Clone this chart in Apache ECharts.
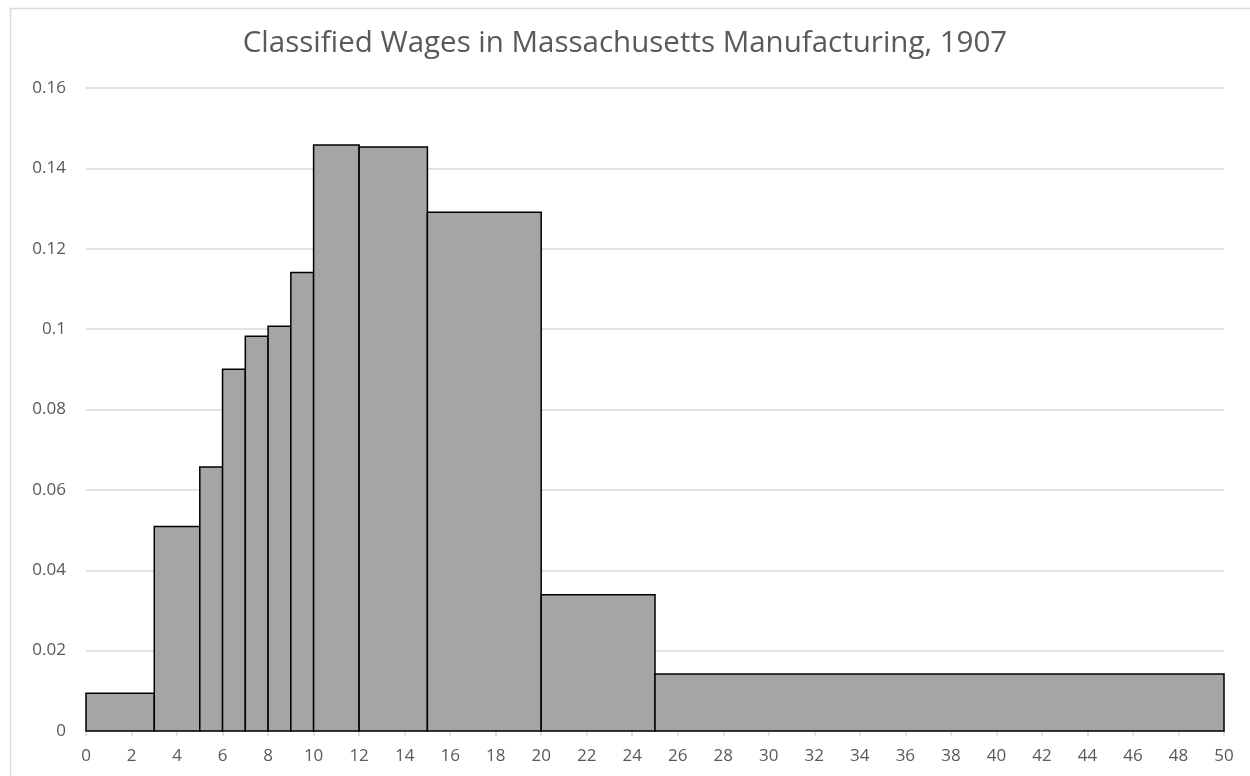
<!DOCTYPE html>
<html>
<head>
<meta charset="utf-8">
<script src="https://cdn.jsdelivr.net/npm/echarts@6/dist/echarts.min.js"></script>
<style>
html,body{margin:0;padding:0;background:#fff;}
#chart{width:1250px;height:776px;}
</style>
</head>
<body>
<div id="chart"></div>
<script>
// Bin edges (weekly wage, dollars) and density heights
const binStart = [0, 3, 5, 6, 7, 8, 9, 10, 12, 15, 20, 25];
const binEnd   = [3, 5, 6, 7, 8, 9, 10, 12, 15, 20, 25, 50];
const density  = [0.0094, 0.0509, 0.0657, 0.0900, 0.0982, 0.1007, 0.1141, 0.1458, 0.1453, 0.1291, 0.0339, 0.0142];
const titleText = 'Classified Wages in Massachusetts Manufacturing, 1907';

const data = binStart.map((s, i) => [s, binEnd[i], density[i]]);
const chart = echarts.init(document.getElementById('chart'));
const font = '"Open Sans", "Liberation Sans", sans-serif';
chart.setOption({
  backgroundColor: '#fff',
  animation: false,
  title: {
    text: titleText,
    left: 'center',
    top: 24,
    textStyle: { fontFamily: font, fontSize: 29.5, fontWeight: 'normal', color: '#595959' }
  },
  graphic: [{
    type: 'rect',
    left: 8, top: 6,
    shape: { width: 1300, height: 900 },
    style: { fill: 'none', stroke: '#d9d9d9', lineWidth: 1.5 },
    silent: true, z: -10
  }],
  grid: { left: 86, right: 26, top: 88, bottom: 45, containLabel: false },
  xAxis: {
    type: 'value', min: 0, max: 50, interval: 2,
    axisLine: { show: true, lineStyle: { color: '#d9d9d9', width: 1.5 } },
    axisTick: { show: true, length: 5, lineStyle: { color: '#d9d9d9', width: 1.5 } },
    splitLine: { show: false },
    axisLabel: { color: '#595959', fontFamily: font, fontSize: 17, margin: 17 }
  },
  yAxis: {
    type: 'value', min: 0, max: 0.16, interval: 0.02,
    axisLine: { show: false },
    axisTick: { show: false },
    splitLine: { show: true, lineStyle: { color: '#d9d9d9', width: 1.5 } },
    axisLabel: { color: '#595959', fontFamily: font, fontSize: 17, margin: 20,
      formatter: v => String(parseFloat(v.toFixed(2))) }
  },
  series: [{
    type: 'custom',
    data: data,
    encode: { x: [0, 1], y: 2 },
    renderItem: function (params, api) {
      const p0 = api.coord([api.value(0), api.value(2)]);
      const p1 = api.coord([api.value(1), 0]);
      return {
        type: 'rect',
        shape: { x: p0[0], y: p0[1], width: p1[0] - p0[0], height: p1[1] - p0[1] },
        style: { fill: '#a5a5a5', stroke: '#000', lineWidth: 1.5 }
      };
    },
    z: 5
  }]
});
</script>
</body>
</html>
